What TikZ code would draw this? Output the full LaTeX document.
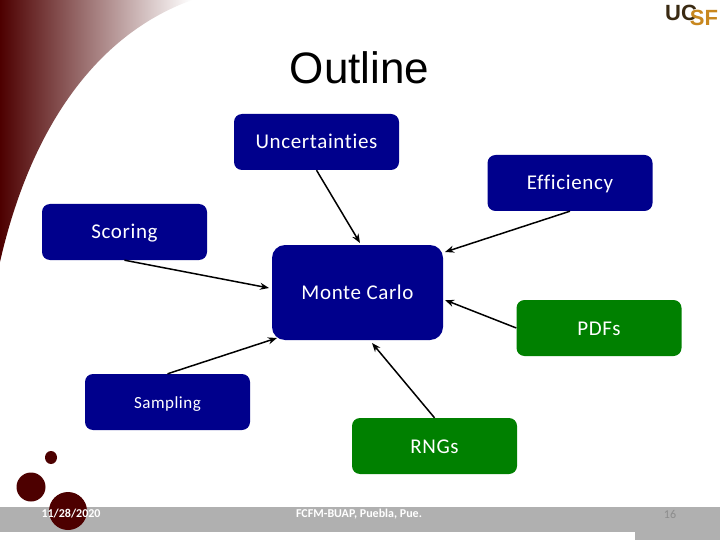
\documentclass[tikz,border=0pt]{standalone}
\usepackage{fontspec}
\setmainfont[LetterSpace=3,Ligatures=NoCommon]{Carlito}
\newfontfamily\footf{Carlito}
\newfontfamily\arialf{Liberation Sans}
\usetikzlibrary{arrows.meta}
\definecolor{navybox}{HTML}{00008C}
\definecolor{greenbox}{HTML}{008000}
\definecolor{maroon}{HTML}{4D0000}
\definecolor{barg}{HTML}{B0B0B0}
\definecolor{logodark}{HTML}{3A2A12}
\definecolor{logoorange}{HTML}{C8871E}
\tikzset{
  boxbase/.style={rounded corners=8pt,inner sep=0pt,text=white,font=\fontsize{21}{24}\selectfont,minimum width=165pt,minimum height=56pt,text height=18pt,text depth=4pt},
  bluebox/.style={boxbase,fill=navybox},
  greenb/.style={boxbase,fill=greenbox},
  conn/.style={draw=black,line width=1.5pt,-{Stealth[length=9pt,width=7pt]}},
  foot/.style={inner sep=0pt,text=white,font=\footf\bfseries\fontsize{12}{14}\selectfont},
  dot/.style={fill=maroon,draw=none}
}
\begin{document}
\begin{tikzpicture}[x=1pt,y=-1pt]
\useasboundingbox (0,0) rectangle (720,540);
\fill[white] (0,0) rectangle (720,540);
% swoosh
\shade[left color=maroon,right color=white] (0,0) -- (192,0) .. controls (95,35) and (30,130) .. (0,262) -- cycle;
% footer
\fill[barg] (0,507) rectangle (720,532);
\fill[barg] (635,532) rectangle (720,540);
\fill[dot] (51,457.5) ellipse [x radius=6,y radius=6.5];
\fill[dot] (31,487) ellipse [x radius=14.5,y radius=14.5];
\fill[dot] (68,511) ellipse [x radius=19,y radius=19];
\node[foot] (date) at (71,514) {11/28/2020};
\node[foot] (place) at (359,514) {FCFM-BUAP, Puebla, Pue.};
\node[inner sep=0pt,text=black!45,font=\footf\fontsize{12}{14}\selectfont] (pg) at (670,514) {16};
% logo
\node[inner sep=0pt,text=logodark,font=\arialf\bfseries\fontsize{22}{25}\selectfont] (logoa) at (681,13) {UC};
\node[inner sep=0pt,text=logoorange,font=\arialf\bfseries\fontsize{22}{25}\selectfont] (logob) at (704,18) {SF};
% title
\node[inner sep=0pt,font=\arialf\fontsize{44}{48}\selectfont] (title) at (359.5,68) {Outline};
% boxes
\node[bluebox] (unc) at (316.5,142) {Uncertainties};
\node[bluebox] (eff) at (570,183) {Efficiency};
\node[bluebox] (sco) at (124.5,232) {Scoring};
\node[bluebox,minimum width=171pt,minimum height=95pt,rounded corners=13pt] (mc) at (357.5,292.5) {Monte Carlo};
\node[greenb] (pdf) at (599,328) {PDFs};
\node[bluebox,font=\fontsize{17}{20}\selectfont,text height=16pt] (sam) at (167.5,402) {Sampling};
\node[greenb] (rng) at (434.5,446) {RNGs};
% connector ends
\coordinate (e1) at (360,243);
\coordinate (e2) at (445,252);
\coordinate (e3) at (269,288);
\coordinate (e4) at (445,300);
\coordinate (e5) at (277,338);
\coordinate (e6) at (372,343);
\draw[conn] (unc.south) -- (e1);
\draw[conn] (eff.south) -- (e2);
\draw[conn] (sco.south) -- (e3);
\draw[conn] (pdf.west) -- (e4);
\draw[conn] (sam.north) -- (e5);
\draw[conn] (rng.north) -- (e6);
\end{tikzpicture}
\end{document}
